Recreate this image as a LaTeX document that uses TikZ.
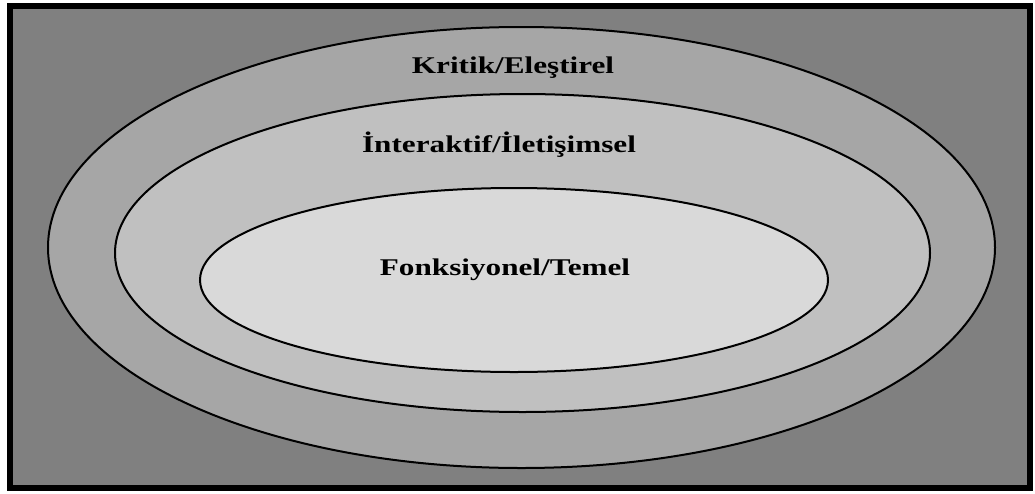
\documentclass[tikz,border=0pt]{standalone}
\usepackage{fontspec}
\setmainfont{Liberation Serif}
\newfontfamily\lvlfont{Liberation Serif}[FakeStretch=1.3]
\definecolor{zoneout}{HTML}{808080}
\definecolor{zonecrit}{HTML}{A6A6A6}
\definecolor{zoneint}{HTML}{C0C0C0}
\definecolor{zonefunc}{HTML}{D9D9D9}
\begin{document}
\begin{tikzpicture}[x=1pt,y=-1pt]
\tikzstyle{every node}+=[inner sep=0pt]
\tikzstyle{lvl}=[font=\lvlfont\fontsize{24}{28}\selectfont\bfseries]
\useasboundingbox (0,0) rectangle (1035,493);
\fill [white] (0,0) rectangle (1035,493);
\filldraw [fill=zoneout, line width=6pt] (9.5,6) rectangle (1030,488);
\filldraw [fill=zonecrit, line width=2pt] (521.5,247.5) ellipse [x radius=473.5, y radius=220.5];
\filldraw [fill=zoneint, line width=2pt] (522.5,253) ellipse [x radius=407.5, y radius=159];
\filldraw [fill=zonefunc, line width=2pt] (514,280) ellipse [x radius=314, y radius=92];
\draw (513,68) node [lvl] (kritik) {Kritik/Eleştirel};
\draw (499,145) node [lvl] (inter) {İnteraktif/İletişimsel};
\draw (505,270) node [lvl] (fonk) {Fonksiyonel/Temel};
\end{tikzpicture}
\end{document}
